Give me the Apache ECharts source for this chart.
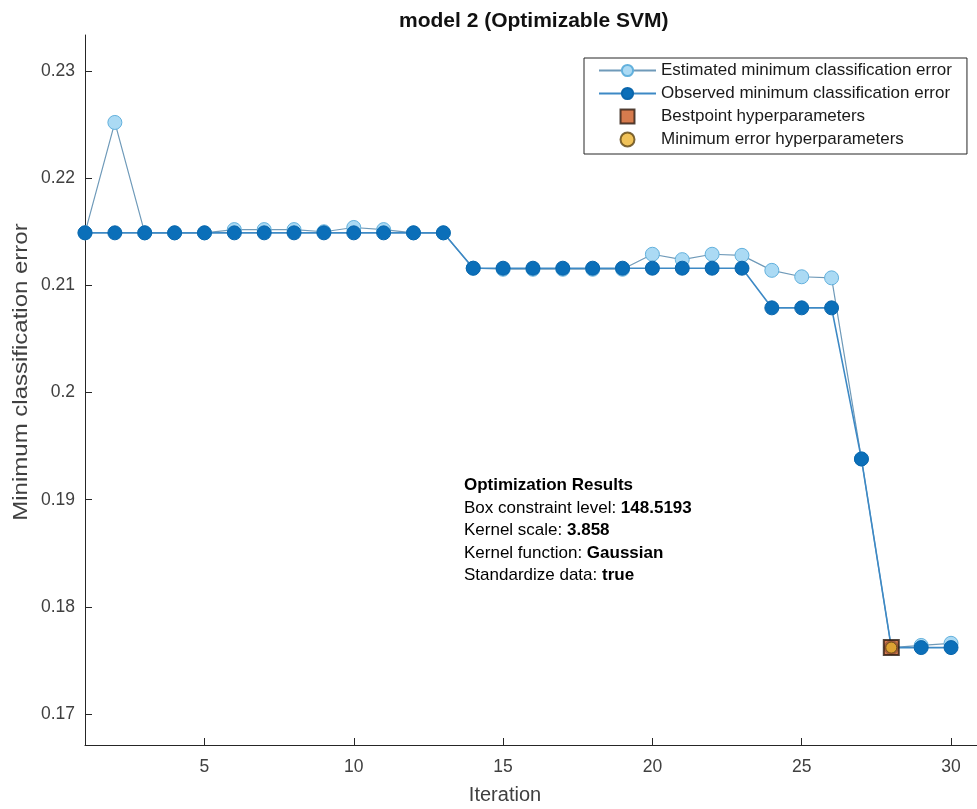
<!DOCTYPE html>
<html>
<head>
<meta charset="utf-8">
<script src="https://cdn.jsdelivr.net/npm/echarts@6/dist/echarts.min.js"></script>
<style>
  html, body { margin: 0; padding: 0; background: #ffffff; }
  #chart { width: 977px; height: 809px; }
</style>
</head>
<body>
<div id="chart"></div>
<script>
// Bayesian optimisation trace for the SVM model
const iterations = [1, 2, 3, 4, 5, 6, 7, 8, 9, 10, 11, 12, 13, 14, 15,
                    16, 17, 18, 19, 20, 21, 22, 23, 24, 25, 26, 27, 28, 29, 30];

const estimatedError = [0.2149, 0.2252, 0.2149, 0.2149, 0.2149, 0.2152, 0.2152, 0.2152, 0.2150, 0.2154,
                        0.2152, 0.2149, 0.2149, 0.2116, 0.2115, 0.2115, 0.2115, 0.2115, 0.2115, 0.2129,
                        0.2124, 0.2129, 0.2128, 0.2114, 0.2108, 0.2107, 0.1938, 0.1762, 0.1764, 0.1766];

const observedError = [0.2149, 0.2149, 0.2149, 0.2149, 0.2149, 0.2149, 0.2149, 0.2149, 0.2149, 0.2149,
                       0.2149, 0.2149, 0.2149, 0.2116, 0.2116, 0.2116, 0.2116, 0.2116, 0.2116, 0.2116,
                       0.2116, 0.2116, 0.2116, 0.2079, 0.2079, 0.2079, 0.1938, 0.1762, 0.1762, 0.1762];

const bestpointIteration = 28;
const bestpointError = 0.1762;
const minErrorIteration = 28;
const minErrorValue = 0.1762;

const xTicks = [5, 10, 15, 20, 25, 30];
const yTicks = [0.17, 0.18, 0.19, 0.2, 0.21, 0.22, 0.23];

const seriesNames = [
  'Estimated minimum classification error',
  'Observed minimum classification error',
  'Bestpoint hyperparameters',
  'Minimum error hyperparameters'
];

const resultLines = [
  ['Box constraint level: ', '148.5193'],
  ['Kernel scale: ', '3.858'],
  ['Kernel function: ', 'Gaussian'],
  ['Standardize data: ', 'true']
];

const FONT = '"Liberation Sans", Arial, Helvetica, sans-serif';
const AXIS_COLOR = '#262626';
const LABEL_COLOR = '#404040';

const chart = echarts.init(document.getElementById('chart'), null, { renderer: 'canvas' });

const pairs = (xs, ys) => xs.map((x, i) => [x, ys[i]]);

const resultRich = {
  h: { fontFamily: FONT, fontSize: 17, fontWeight: 'bold', color: '#1a1a1a', lineHeight: 22.5 },
  n: { fontFamily: FONT, fontSize: 17, color: '#1a1a1a', lineHeight: 22.5 },
  b: { fontFamily: FONT, fontSize: 17, fontWeight: 'bold', color: '#1a1a1a', lineHeight: 22.5 }
};
const resultText = ['{h|Optimization Results}']
  .concat(resultLines.map(l => '{n|' + l[0] + '}{b|' + l[1] + '}'))
  .join('\n');

chart.setOption({
  animation: false,
  backgroundColor: '#ffffff',
  title: {
    text: 'model 2 (Optimizable SVM)',
    left: 394,
    top: 6,
    textStyle: { fontFamily: FONT, fontSize: 21, fontWeight: 'bold', color: '#111111' }
  },
  grid: { left: 85, right: 0, top: 35, bottom: 64, containLabel: false },
  legend: {
    orient: 'vertical',
    left: 584,
    top: 58,
    padding: [4, 15, 6, 14],
    itemGap: 6,
    itemWidth: 57,
    itemHeight: 14,
    symbolKeepAspect: true,
    borderColor: AXIS_COLOR,
    borderWidth: 1,
    backgroundColor: '#ffffff',
    data: [
      { name: seriesNames[0] },
      { name: seriesNames[1] },
      { name: seriesNames[2], icon: 'path://M0,0H10V10H0Z' },
      { name: seriesNames[3], icon: 'circle' }
    ],
    textStyle: { fontFamily: FONT, fontSize: 17, color: '#1a1a1a', lineHeight: 17 }
  },
  xAxis: {
    type: 'value',
    min: 1,
    max: 30.87,
    axisLine: { lineStyle: { color: AXIS_COLOR, width: 1 } },
    axisTick: { inside: true, length: 7, lineStyle: { color: AXIS_COLOR }, customValues: xTicks },
    axisLabel: { customValues: xTicks, color: LABEL_COLOR, fontFamily: FONT, fontSize: 17.5, margin: 13 },
    splitLine: { show: false }
  },
  yAxis: {
    type: 'value',
    min: 0.16711,
    max: 0.23336,
    axisLine: { show: true, lineStyle: { color: AXIS_COLOR, width: 1 } },
    axisTick: { show: true, inside: true, length: 7, lineStyle: { color: AXIS_COLOR }, customValues: yTicks },
    axisLabel: {
      customValues: yTicks,
      color: LABEL_COLOR, fontFamily: FONT, fontSize: 17.5, margin: 10,
      formatter: v => String(Number(v.toFixed(4)))
    },
    splitLine: { show: false }
  },
  series: [
    {
      name: seriesNames[0],
      type: 'line',
      data: pairs(iterations, estimatedError),
      symbol: 'circle',
      symbolSize: 14,
      z: 2,
      lineStyle: { color: '#6f9ab9', width: 1.2 },
      itemStyle: { color: '#abdaf4', borderColor: '#63b1dd', borderWidth: 1 }
    },
    {
      name: seriesNames[1],
      type: 'line',
      data: pairs(iterations, observedError),
      symbol: 'circle',
      symbolSize: 14,
      z: 3,
      lineStyle: { color: '#3d89c5', width: 1.6 },
      itemStyle: { color: '#0b6fb9', borderColor: '#0a66ac', borderWidth: 1 }
    },
    {
      name: seriesNames[2],
      type: 'scatter',
      data: [[bestpointIteration, bestpointError]],
      symbol: 'rect',
      symbolSize: 15,
      z: 4,
      itemStyle: { color: '#cc5a22', borderColor: '#2b1a10', borderWidth: 2 }
    },
    {
      name: seriesNames[3],
      type: 'scatter',
      data: [[minErrorIteration, minErrorValue]],
      symbol: 'circle',
      symbolSize: 11,
      z: 5,
      itemStyle: { color: '#ecb330', borderColor: '#5c4312', borderWidth: 1 }
    }
  ],
  graphic: [
    {
      type: 'text',
      left: 464,
      top: 477,
      style: { text: resultText, rich: resultRich }
    },
    {
      type: 'text',
      x: 505,
      y: 795,
      style: {
        text: 'Iteration', fontFamily: FONT, fontSize: 20, fill: LABEL_COLOR,
        align: 'center', verticalAlign: 'middle'
      }
    },
    {
      type: 'text',
      x: 21,
      y: 372,
      rotation: Math.PI / 2,
      scaleX: 1.2,
      style: {
        text: 'Minimum classification error', fontFamily: FONT, fontSize: 20, fill: LABEL_COLOR,
        align: 'center', verticalAlign: 'middle'
      }
    }
  ]
});
</script>
</body>
</html>
